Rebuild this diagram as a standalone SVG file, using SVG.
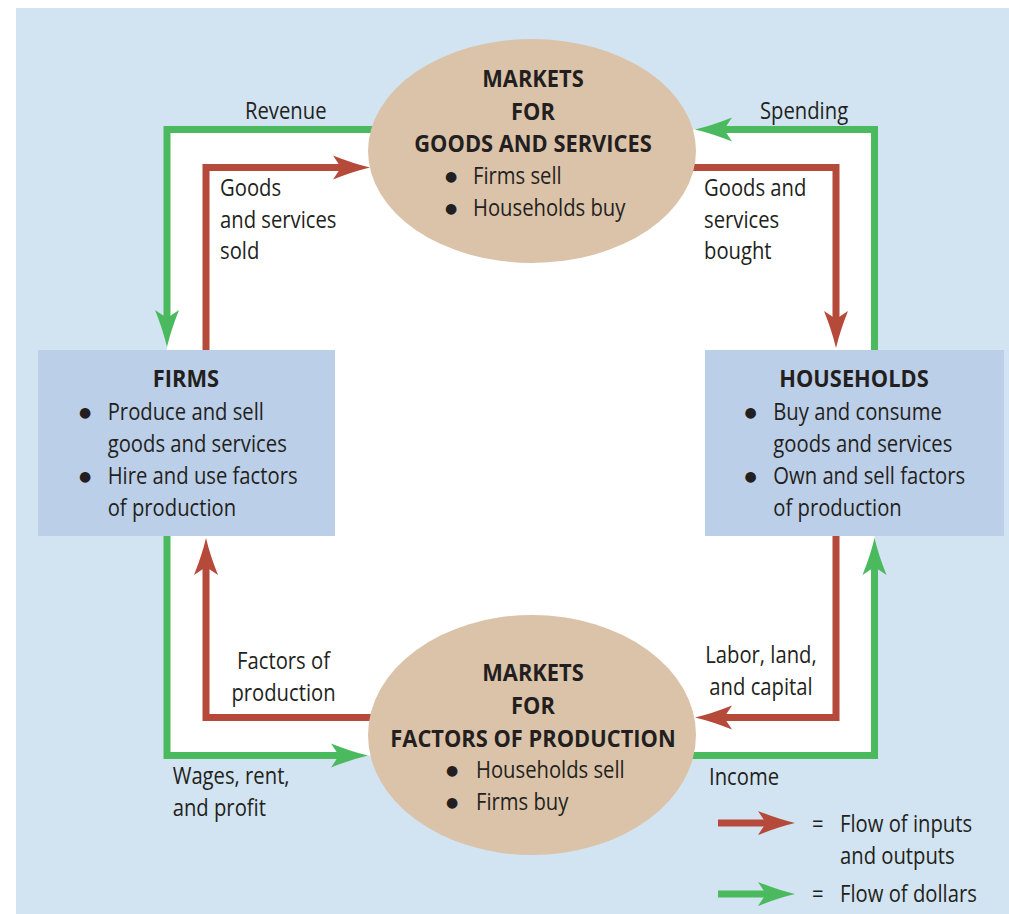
<svg xmlns="http://www.w3.org/2000/svg" width="1009" height="914" viewBox="0 0 1009 914">
<style>
.t{font-family:"Open Sans","Noto Sans","DejaVu Sans",sans-serif;font-size:23px;fill:#231f20}
.b{font-weight:700}
.m{text-anchor:middle}
.bu{font-family:"DejaVu Sans",sans-serif;font-size:14px;fill:#231f20;text-anchor:middle}
.g{fill:none;stroke:#4bba5e;stroke-width:7;stroke-linejoin:miter}
.r{fill:none;stroke:#b5493a;stroke-width:7;stroke-linejoin:miter}
.box{fill:#bccfe8}
.ell{fill:#dbc3a9}
</style>
<defs>
<marker id="ahg" markerUnits="userSpaceOnUse" orient="auto" overflow="visible" viewBox="-10 -15 40 30" markerWidth="40" markerHeight="30" refX="0" refY="0">
<path d="M29,0 Q12,-4 -8,-12 L0,0 L-8,12 Q12,4 29,0 Z" fill="#4bba5e"/>
</marker>
<marker id="ahr" markerUnits="userSpaceOnUse" orient="auto" overflow="visible" viewBox="-10 -15 40 30" markerWidth="40" markerHeight="30" refX="0" refY="0">
<path d="M29,0 Q12,-4 -8,-12 L0,0 L-8,12 Q12,4 29,0 Z" fill="#b5493a"/>
</marker>
</defs>
<rect x="16" y="8" width="993" height="906" fill="#d2e4f1"/>
<rect x="167" y="129.5" width="707.5" height="626" fill="#ffffff"/>
<g id="connectors">
<path class="g" d="M380,129.5 H167 V318" marker-end="url(#ahg)"/>
<path class="g" d="M167,530 V755.5 H339" marker-end="url(#ahg)"/>
<path class="g" d="M690,755.5 H874.5 V567" marker-end="url(#ahg)"/>
<path class="g" d="M874.5,355 V129.5 H724" marker-end="url(#ahg)"/>
<path class="r" d="M206,355 V167.5 H341" marker-end="url(#ahr)"/>
<path class="r" d="M685,167.5 H836 V319" marker-end="url(#ahr)"/>
<path class="r" d="M836,530 V717.5 H724" marker-end="url(#ahr)"/>
<path class="r" d="M380,717.5 H206 V567" marker-end="url(#ahr)"/>
</g>
<g id="connector-labels">
<text class="t" transform="translate(245,119.3) scale(0.88,1)">Revenue</text>
<text class="t" transform="translate(760,119.3) scale(0.88,1)">Spending</text>
<text class="t" transform="translate(220,196) scale(0.88,1)">Goods</text>
<text class="t" transform="translate(220,227.5) scale(0.88,1)">and services</text>
<text class="t" transform="translate(220,259) scale(0.88,1)">sold</text>
<text class="t" transform="translate(704,196) scale(0.88,1)">Goods and</text>
<text class="t" transform="translate(704,227.5) scale(0.88,1)">services</text>
<text class="t" transform="translate(704,259) scale(0.88,1)">bought</text>
<text class="t m" transform="translate(283.5,669) scale(0.88,1)">Factors of</text>
<text class="t m" transform="translate(283.5,701) scale(0.88,1)">production</text>
<text class="t" transform="translate(172.7,784.3) scale(0.88,1)">Wages, rent,</text>
<text class="t" transform="translate(172.7,816) scale(0.88,1)">and profit</text>
<text class="t m" transform="translate(761,663) scale(0.88,1)">Labor, land,</text>
<text class="t m" transform="translate(761,695) scale(0.88,1)">and capital</text>
<text class="t" transform="translate(709,785) scale(0.88,1)">Income</text>
</g>
<g id="markets-goods">
<ellipse class="ell" cx="532" cy="151" rx="164" ry="112"/>
<text class="t b m" transform="translate(533,87) scale(0.95,1)">MARKETS</text>
<text class="t b m" transform="translate(533,119.5) scale(0.95,1)">FOR</text>
<text class="t b m" transform="translate(533,151.5) scale(0.95,1)">GOODS AND SERVICES</text>
<text class="bu" x="451" y="181">●</text>
<text class="t" transform="translate(473,184) scale(0.88,1)">Firms sell</text>
<text class="bu" x="451" y="213">●</text>
<text class="t" transform="translate(473,216) scale(0.88,1)">Households buy</text>
</g>
<g id="markets-factors">
<ellipse class="ell" cx="532" cy="735" rx="164" ry="120"/>
<text class="t b m" transform="translate(533,681) scale(0.95,1)">MARKETS</text>
<text class="t b m" transform="translate(533,714) scale(0.95,1)">FOR</text>
<text class="t b m" transform="translate(533,746.5) scale(0.95,1)">FACTORS OF PRODUCTION</text>
<text class="bu" x="452" y="775">●</text>
<text class="t" transform="translate(476,778) scale(0.88,1)">Households sell</text>
<text class="bu" x="452" y="806.5">●</text>
<text class="t" transform="translate(476,809.5) scale(0.88,1)">Firms buy</text>
</g>
<g id="firms">
<rect class="box" x="38" y="350" width="297" height="186"/>
<text class="t b m" transform="translate(186,387.3) scale(0.95,1)">FIRMS</text>
<text class="bu" x="85" y="417">●</text>
<text class="t" transform="translate(107.7,420) scale(0.88,1)">Produce and sell</text>
<text class="t" transform="translate(107.7,452) scale(0.88,1)">goods and services</text>
<text class="bu" x="85" y="481.3">●</text>
<text class="t" transform="translate(107.7,484.3) scale(0.88,1)">Hire and use factors</text>
<text class="t" transform="translate(107.7,516) scale(0.88,1)">of production</text>
</g>
<g id="households">
<rect class="box" x="705" y="350" width="299" height="186"/>
<text class="t b m" transform="translate(854,387.3) scale(0.95,1)">HOUSEHOLDS</text>
<text class="bu" x="750.5" y="417">●</text>
<text class="t" transform="translate(773.3,420) scale(0.88,1)">Buy and consume</text>
<text class="t" transform="translate(773.3,452) scale(0.88,1)">goods and services</text>
<text class="bu" x="750.5" y="481.3">●</text>
<text class="t" transform="translate(773.3,484.3) scale(0.88,1)">Own and sell factors</text>
<text class="t" transform="translate(773.3,516) scale(0.88,1)">of production</text>
</g>
<g id="legend">
<path class="r" d="M718,823 H766" marker-end="url(#ahr)"/>
<path class="g" d="M718,894 H766" marker-end="url(#ahg)"/>
<text class="t" transform="translate(812,832) scale(0.88,1)">=</text>
<text class="t" transform="translate(840,832) scale(0.88,1)">Flow of inputs</text>
<text class="t" transform="translate(840,864) scale(0.88,1)">and outputs</text>
<text class="t" transform="translate(812,902) scale(0.88,1)">=</text>
<text class="t" transform="translate(840,902) scale(0.88,1)">Flow of dollars</text>
</g>
</svg>
